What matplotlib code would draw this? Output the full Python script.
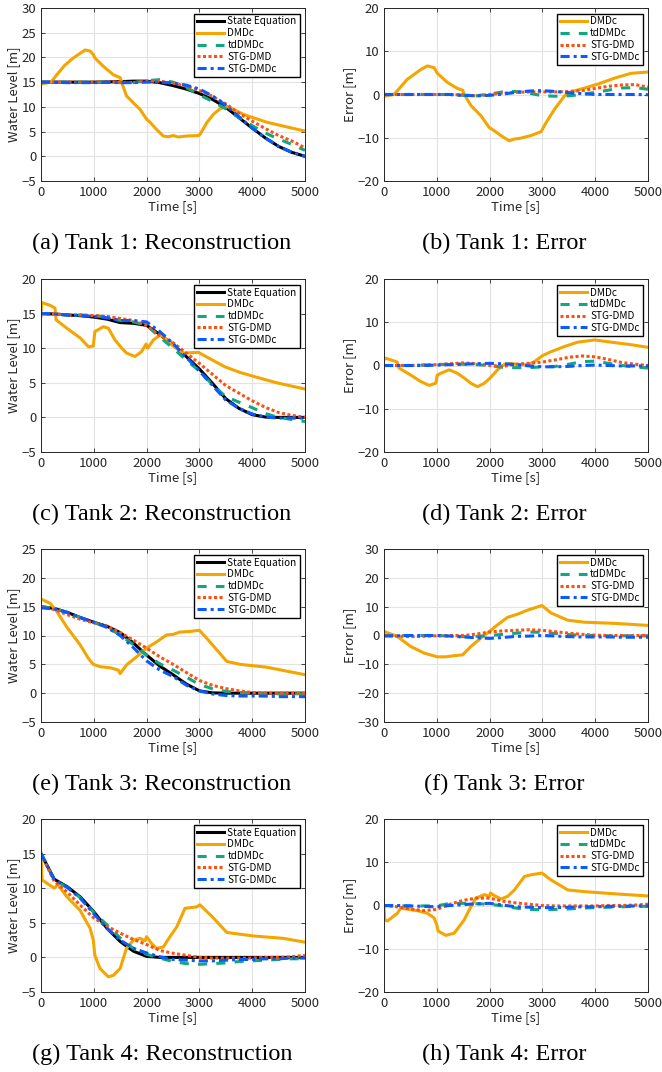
import matplotlib.pyplot as plt

# time grid for the smooth curves [s]
T = [0, 250, 500, 750, 1000, 1250, 1500, 1750, 2000, 2250, 2500,
     2750, 3000, 3250, 3500, 3750, 4000, 4250, 4500, 4750, 5000]

# ---------------- Tank 1 ----------------
tank1_state = [15.0, 15.0, 15.0, 15.0, 15.0, 15.05, 15.1, 15.2, 15.2, 14.9, 14.3,
               13.6, 12.7, 11.5, 9.9, 7.8, 5.7, 3.7, 2.0, 0.8, 0.0]
tank1_td = [15.0, 15.0, 15.0, 15.0, 15.0, 15.05, 14.9, 14.9, 15.3, 15.5, 15.0,
            13.9, 12.4, 11.1, 9.6, 7.8, 6.2, 4.7, 3.5, 2.4, 1.2]
tank1_stg = [15.0, 15.0, 15.0, 15.0, 15.0, 15.05, 15.0, 14.9, 15.2, 15.2, 14.8,
             14.2, 13.3, 12.1, 10.6, 8.7, 7.1, 5.6, 4.2, 3.1, 1.7]
tank1_stgc = [15.0, 15.0, 14.9, 14.9, 14.9, 14.95, 14.9, 14.9, 15.0, 15.0, 14.8,
              14.4, 13.6, 12.2, 10.3, 8.0, 5.7, 3.7, 2.0, 0.8, -0.05]
tank1_dmdc_t = [0, 190, 300, 440, 600, 833, 928, 990, 1020, 1180, 1370, 1500, 1530,
                1620, 1750, 1875, 2000, 2065, 2190, 2317, 2410, 2505, 2600, 2760,
                2980, 3010, 3140, 3265, 3390, 3520, 3640, 3830, 4020, 4275, 4590, 5000]
tank1_dmdc = [14.6, 15.0, 16.5, 18.3, 19.8, 21.5, 21.3, 20.6, 19.9, 18.2, 16.5, 15.9, 14.9,
              12.2, 10.8, 9.5, 7.5, 6.9, 5.4, 4.1, 3.95, 4.2, 3.9, 4.1,
              4.2, 4.4, 6.8, 8.5, 9.6, 10.1, 9.5, 8.5, 7.8, 6.9, 6.1, 5.1]
tank1_err_t = [0, 190, 440, 700, 820, 950, 1010, 1200, 1390, 1490, 1520, 1650, 1835,
               1990, 2090, 2215, 2370, 2470, 2590, 2780, 2975, 3070, 3230, 3420,
               3540, 3800, 4050, 4370, 4680, 5000]
tank1_err_dmdc = [-0.4, 0.0, 3.5, 5.8, 6.6, 6.2, 4.9, 2.8, 1.4, 1.0, 0.0, -2.6, -4.9,
                  -7.6, -8.4, -9.5, -10.7, -10.3, -10.1, -9.5, -8.6, -6.5, -3.4, -0.3,
                  0.6, 1.5, 2.4, 3.8, 4.9, 5.2]
tank1_err_td = [0, 0, 0, 0, 0, 0, -0.2, -0.3, 0.1, 0.6, 0.7, 0.3, -0.3, -0.4, -0.3,
                0, 0.5, 1.0, 1.5, 1.6, 1.2]
tank1_err_stg = [0, 0, 0, 0, 0, 0, -0.1, -0.3, 0, 0.3, 0.5, 0.6, 0.6, 0.6, 0.7,
                 0.9, 1.4, 1.9, 2.2, 2.3, 1.7]
tank1_err_stgc = [0, 0, 0, 0, 0, 0, -0.2, -0.3, -0.2, 0.1, 0.5, 0.8, 0.9, 0.7, 0.4,
                  0.2, 0, 0, 0, 0, -0.05]

# ---------------- Tank 2 ----------------
tank2_state = [15.0, 14.95, 14.8, 14.7, 14.5, 14.2, 13.7, 13.6, 13.3, 12.0, 10.5,
               8.8, 7.0, 4.9, 2.7, 1.3, 0.4, 0.05, 0, 0, 0]
tank2_td = [15.0, 14.95, 14.8, 14.8, 14.7, 14.5, 14.0, 13.8, 13.3, 11.6, 10.0,
            8.3, 6.7, 4.7, 3.0, 2.2, 1.4, 0.55, 0, -0.3, -0.6]
tank2_stg = [15.0, 14.95, 14.8, 14.8, 14.7, 14.6, 14.3, 14.0, 13.3, 11.8, 10.8,
             9.3, 7.8, 6.2, 4.6, 3.5, 2.4, 1.45, 0.7, 0.3, 0]
tank2_stgc = [15.0, 14.95, 14.8, 14.7, 14.6, 14.4, 14.0, 14.0, 13.8, 12.4, 10.7,
              8.7, 6.7, 4.6, 2.5, 1.3, 0.5, 0.05, -0.1, -0.1, -0.1]
tank2_dmdc_t = [0, 13, 170, 265, 285, 486, 740, 900, 990, 1020, 1180, 1275, 1400,
                1530, 1620, 1780, 1905, 1990, 2020, 2130, 2255, 2320, 2505, 2700,
                2980, 3170, 3485, 3770, 4085, 4465, 5000]
tank2_dmdc = [14.6, 16.6, 16.2, 15.8, 14.1, 12.9, 11.5, 10.2, 10.3, 12.4, 13.1, 12.9, 11.2,
              10.0, 9.3, 8.8, 9.5, 10.6, 10.0, 11.2, 11.9, 11.7, 10.3, 9.3,
              9.4, 8.6, 7.3, 6.5, 5.8, 5.0, 4.1]
tank2_err_t = [0, 30, 250, 285, 505, 695, 855, 980, 1010, 1075, 1235, 1390, 1520,
               1645, 1770, 1900, 2010, 2150, 2280, 2405, 2530, 2720, 2850, 3005,
               3165, 3420, 3670, 3990, 4300, 4685, 5000]
tank2_err_dmdc = [1.3, 1.7, 0.8, -0.6, -2.2, -3.7, -4.6, -4.1, -2.2, -1.8, -1.0, -1.8, -2.9,
                  -4.1, -4.9, -4.1, -2.9, -1.0, 0.3, 0.5, 0.2, 0.2, 0.9, 2.3,
                  3.2, 4.4, 5.4, 5.9, 5.4, 4.8, 4.2]
tank2_err_td = [0, 0, 0, 0.1, 0.2, 0.3, 0.3, 0.2, 0, -0.4, -0.5, -0.5, -0.3, -0.2,
                0.3, 0.9, 1.0, 0.5, 0.0, -0.3, -0.6]
tank2_err_stg = [0, 0, 0, 0.1, 0.2, 0.4, 0.6, 0.4, 0, -0.2, 0.3, 0.5, 0.8, 1.3,
                 1.9, 2.2, 2.0, 1.4, 0.7, 0.3, 0]
tank2_err_stgc = [0, 0, 0, 0, 0.1, 0.2, 0.3, 0.4, 0.5, 0.4, 0.2, -0.1, -0.3, -0.3,
                  -0.2, 0, 0.1, 0, -0.1, -0.1, -0.1]

# ---------------- Tank 3 ----------------
tank3_state = [15.0, 14.7, 14.0, 13.1, 12.3, 11.6, 10.5, 8.7, 6.6, 4.7, 3.2,
               1.6, 0.4, 0.05, 0, 0, 0, 0, 0, 0, 0]
tank3_td = [15.0, 14.7, 14.0, 13.1, 12.3, 11.4, 10.1, 8.4, 6.6, 5.1, 4.0,
            2.8, 1.5, 0.75, 0.3, 0.1, 0, -0.1, -0.1, -0.1, -0.1]
tank3_stg = [15.0, 14.5, 13.6, 12.8, 12.2, 11.6, 10.5, 9.2, 7.8, 6.3, 5.0,
             3.6, 2.2, 1.35, 0.8, 0.4, 0.1, 0, 0, 0, 0]
tank3_stgc = [14.8, 14.6, 14.0, 13.1, 12.3, 11.4, 10.0, 7.9, 5.6, 4.0, 2.9,
              1.4, 0.4, -0.15, -0.4, -0.5, -0.5, -0.5, -0.6, -0.6, -0.6]
tank3_dmdc_t = [0, 170, 297, 486, 740, 900, 990, 1117, 1310, 1465, 1500, 1620, 1810,
                2000, 2190, 2380, 2505, 2630, 2820, 3000, 3140, 3330, 3520, 3770,
                4275, 5000]
tank3_dmdc = [16.3, 15.6, 14.2, 11.5, 8.4, 6.0, 5.0, 4.6, 4.4, 4.0, 3.4, 4.9, 6.3,
              7.8, 8.9, 10.1, 10.2, 10.6, 10.7, 10.9, 9.5, 7.5, 5.5, 5.0,
              4.5, 3.2]
tank3_err_t = [0, 250, 505, 760, 1010, 1170, 1330, 1490, 1645, 1835, 1995, 2150,
               2340, 2530, 2720, 2990, 3165, 3480, 3800, 4370, 5000]
tank3_err_dmdc = [1.4, -0.3, -3.8, -6.1, -7.4, -7.4, -7.0, -6.7, -3.8, -0.9, 1.4, 3.7,
                  6.3, 7.4, 8.8, 10.4, 7.8, 5.3, 4.6, 4.2, 3.5]
tank3_err_td = [0, 0, 0, 0, 0, -0.2, -0.4, -0.3, 0, 0.4, 0.8, 1.2, 1.1, 0.7, 0.3,
                0.1, 0, -0.1, -0.1, -0.1, -0.1]
tank3_err_stg = [0, -0.2, -0.4, -0.3, -0.1, 0, 0, 0.5, 1.2, 1.6, 1.8, 2.0, 1.8, 1.3,
                 0.8, 0.4, 0.1, 0, 0, 0, 0]
tank3_err_stgc = [-0.2, -0.1, 0, 0, 0, -0.2, -0.5, -0.8, -1.0, -0.7, -0.3, -0.2, 0,
                  -0.2, -0.4, -0.5, -0.5, -0.5, -0.6, -0.6, -0.6]

# ---------------- Tank 4 ----------------
tank4_state = [15.0, 11.3, 10.2, 8.7, 6.6, 4.2, 2.3, 0.9, 0.15, 0, 0,
               0, 0, 0, 0, 0, 0, 0, 0, 0, 0]
tank4_td = [15.0, 11.2, 10.1, 8.6, 6.5, 4.7, 2.8, 1.3, 0.45, -0.1, -0.6,
            -0.9, -1.0, -0.9, -0.8, -0.6, -0.5, -0.4, -0.3, -0.2, -0.2]
tank4_stg = [15.0, 11.0, 9.4, 7.5, 5.7, 4.5, 3.5, 2.6, 1.85, 1.0, 0.6,
             0.3, 0, -0.1, -0.1, -0.1, -0.1, 0, 0, 0.1, 0.3]
tank4_stgc = [15.0, 11.3, 10.1, 8.5, 6.3, 4.2, 2.5, 1.3, 0.65, 0.1, -0.3,
              -0.4, -0.5, -0.5, -0.4, -0.3, -0.3, -0.2, -0.2, -0.1, -0.1]
tank4_dmdc_t = [0, 20, 250, 320, 486, 740, 930, 990, 1020, 1117, 1275, 1370, 1500,
                1560, 1620, 1750, 1875, 1970, 2000, 2095, 2190, 2317, 2443, 2570,
                2727, 2950, 3010, 3265, 3520, 4020, 4590, 5000]
tank4_dmdc = [15.0, 11.2, 10.0, 10.5, 8.8, 6.8, 4.2, 2.5, 0.3, -1.6, -2.8, -2.6, -1.6,
              -0.1, 1.3, 2.5, 2.75, 2.4, 3.0, 2.0, 1.3, 1.5, 3.0, 4.4,
              7.1, 7.3, 7.6, 5.7, 3.6, 3.1, 2.75, 2.2]
tank4_err_t = [0, 13, 63, 253, 316, 633, 823, 950, 1000, 1025, 1170, 1330, 1520,
               1615, 1740, 1900, 2000, 2015, 2090, 2215, 2340, 2470, 2660, 2785,
               2990, 3165, 3480, 3800, 4370, 5000]
tank4_err_dmdc = [0, -3.3, -3.6, -1.8, -0.6, -1.2, -1.8, -2.9, -4.5, -5.9, -6.9, -6.4, -3.3,
                  -1.0, 1.7, 2.5, 2.1, 2.9, 2.3, 1.5, 2.1, 3.6, 6.7, 7.1,
                  7.5, 5.9, 3.6, 3.2, 2.7, 2.2]
tank4_err_td = [0, -0.1, -0.1, -0.1, -0.1, 0.5, 0.5, 0.4, 0.3, -0.1, -0.6, -0.9, -1.0,
                -0.9, -0.8, -0.6, -0.5, -0.4, -0.3, -0.2, -0.2]
tank4_err_stg = [0, -0.3, -0.8, -1.2, -0.9, 0.3, 1.2, 1.7, 1.7, 1.0, 0.6, 0.3, 0,
                 -0.1, -0.1, -0.1, -0.1, 0, 0, 0.1, 0.3]
tank4_err_stgc = [0, 0, -0.1, -0.2, -0.3, 0, 0.2, 0.4, 0.5, 0.1, -0.3, -0.4, -0.5,
                  -0.5, -0.4, -0.3, -0.3, -0.2, -0.2, -0.1, -0.1]

# axis limits / captions
recon_ylims = [(-5, 30), (-5, 20), (-5, 25), (-5, 20)]
err_ylims = [(-20, 20), (-20, 20), (-30, 30), (-20, 20)]
captions_left = ['(a) Tank 1: Reconstruction', '(c) Tank 2: Reconstruction',
                 '(e) Tank 3: Reconstruction', '(g) Tank 4: Reconstruction']
captions_right = ['(b) Tank 1: Error', '(d) Tank 2: Error',
                  '(f) Tank 3: Error', '(h) Tank 4: Error']

# styles
C_STATE = 'black'
C_DMDC = '#F5A500'
C_TD = '#10A880'
C_STG = '#FF5010'
C_STGC = '#0A5AFF'
LW = 2.2
LS_TD = (0, (3, 3))
LS_STG = (0, (1, 0.8))
LS_STGC = (0, (3, 1.3, 1, 1.3))

plt.rcParams['font.family'] = ['Noto Sans CJK JP', 'DejaVu Sans']
plt.rcParams['font.size'] = 9.5

fig = plt.figure(figsize=(6.62, 10.72), dpi=100)

W, H = 662, 1072
ax_w = 264
ax_h = 173
col_x = [41, 384]
row_top = [8, 279, 549, 819]
TXT = '#262626'


def style_axes(ax, ylim, step):
    ax.set_xlim(0, 5000)
    ax.set_ylim(*ylim)
    ax.set_xticks(range(0, 5001, 1000))
    ax.set_yticks(range(ylim[0], ylim[1] + 1, step))
    ax.grid(True, color='#e3e3e3', lw=0.8)
    ax.set_axisbelow(True)
    ax.tick_params(direction='in', top=True, right=True, length=3, width=0.6,
                   labelsize=9.5, pad=3.5, colors=TXT)
    for s in ax.spines.values():
        s.set_linewidth(0.7)
        s.set_color(TXT)
    ax.set_xlabel('Time [s]', fontsize=9.5, labelpad=1, color=TXT)


recon = [
    (tank1_state, tank1_dmdc_t, tank1_dmdc, tank1_td, tank1_stg, tank1_stgc),
    (tank2_state, tank2_dmdc_t, tank2_dmdc, tank2_td, tank2_stg, tank2_stgc),
    (tank3_state, tank3_dmdc_t, tank3_dmdc, tank3_td, tank3_stg, tank3_stgc),
    (tank4_state, tank4_dmdc_t, tank4_dmdc, tank4_td, tank4_stg, tank4_stgc),
]
errors = [
    (tank1_err_t, tank1_err_dmdc, tank1_err_td, tank1_err_stg, tank1_err_stgc),
    (tank2_err_t, tank2_err_dmdc, tank2_err_td, tank2_err_stg, tank2_err_stgc),
    (tank3_err_t, tank3_err_dmdc, tank3_err_td, tank3_err_stg, tank3_err_stgc),
    (tank4_err_t, tank4_err_dmdc, tank4_err_td, tank4_err_stg, tank4_err_stgc),
]

leg_kw = dict(loc='upper right', fontsize=7.2, frameon=True, fancybox=False,
              edgecolor='black', framealpha=1, borderpad=0.3, labelspacing=0.18,
              handlelength=2.7, handletextpad=0.3, borderaxespad=0.55)

for i in range(4):
    bottom = 1 - (row_top[i] + ax_h) / H

    # reconstruction panel
    ax = fig.add_axes([col_x[0] / W, bottom, ax_w / W, ax_h / H])
    st, dt, dv, td, stg, stgc = recon[i]
    ax.plot(T, st, color=C_STATE, lw=LW, label='State Equation')
    ax.plot(dt, dv, color=C_DMDC, lw=LW, label='DMDc')
    ax.plot(T, td, color=C_TD, lw=LW, ls=LS_TD, label='tdDMDc')
    ax.plot(T, stg, color=C_STG, lw=LW, ls=LS_STG, label='STG-DMD')
    ax.plot(T, stgc, color=C_STGC, lw=LW, ls=LS_STGC, label='STG-DMDc')
    style_axes(ax, recon_ylims[i], 5)
    ax.set_ylabel('Water Level [m]', fontsize=9.5, labelpad=1, color=TXT)
    ax.legend(**leg_kw)

    # error panel
    ax = fig.add_axes([col_x[1] / W, bottom, ax_w / W, ax_h / H])
    et, ed, etd, estg, estgc = errors[i]
    ax.plot(et, ed, color=C_DMDC, lw=LW, label='DMDc')
    ax.plot(T, etd, color=C_TD, lw=LW, ls=LS_TD, label='tdDMDc')
    ax.plot(T, estg, color=C_STG, lw=LW, ls=LS_STG, label='STG-DMD')
    ax.plot(T, estgc, color=C_STGC, lw=LW, ls=LS_STGC, label='STG-DMDc')
    style_axes(ax, err_ylims[i], 10)
    ax.set_ylabel('Error [m]', fontsize=9.5, labelpad=1, color=TXT)
    ax.legend(**leg_kw)

    # captions
    cap_y = 1 - (row_top[i] + ax_h + 62) / H
    fig.text(162 / W, cap_y, captions_left[i], ha='center', va='center',
             family='Liberation Serif', fontsize=17.5)
    fig.text(504 / W, cap_y, captions_right[i], ha='center', va='center',
             family='Liberation Serif', fontsize=17.5)

fig.savefig('out.png', dpi=100)
